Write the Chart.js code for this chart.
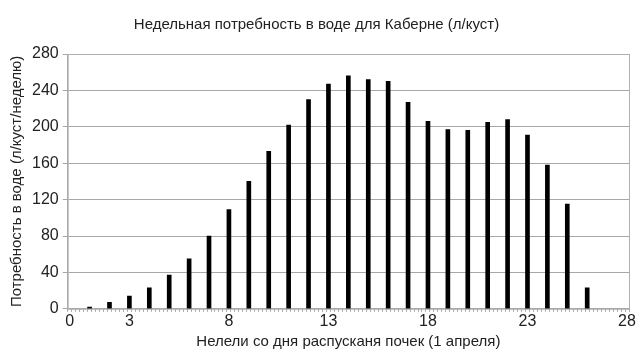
<!DOCTYPE html>
<html>
<head>
<meta charset="utf-8">
<script src="https://cdn.jsdelivr.net/npm/chart.js@4/dist/chart.umd.min.js"></script>
<style>
  html, body { margin: 0; padding: 0; background: #fff; }
  #wrap { width: 643px; height: 360px; }
</style>
</head>
<body>
<div id="wrap"><canvas id="cabernet"></canvas></div>
<script>
// Weekly water need for Cabernet (l/vine), weeks since budbreak
const weeks = [1, 2, 3, 4, 5, 6, 7, 8, 9, 10, 11, 12, 13, 14, 15, 16, 17, 18, 19, 20, 21, 22, 23, 24, 25, 26];
const waterNeed = [2, 7, 14, 23, 37, 55, 80, 109, 140, 173, 202, 230, 247, 256, 252, 250, 227, 206, 197, 196, 205, 208, 191, 158, 115, 23];
const xTickLabels = [0, 3, 8, 13, 18, 23, 28];
const yTickValues = [0, 40, 80, 120, 160, 200, 240, 280];

const chartTitle = 'Недельная потребность в воде для Каберне (л/куст)';
const xTitle = 'Нелели со дня распусканя почек (1 апреля)';
const yTitle = 'Потребность в воде (л/куст/неделю)';

Chart.defaults.font.family = 'Arial, "Liberation Sans", sans-serif';
Chart.defaults.color = '#333';

// draws the grey frame round the plot area
const frame = {
    id: 'frame',
    afterDraw(chart) {
        const a = chart.chartArea;
        const c = chart.ctx;
        c.save();
        c.strokeStyle = '#b0b0b0';
        c.lineWidth = 1;
        c.strokeRect(a.left + 0.5, a.top + 0.5, a.right - a.left, a.bottom - a.top);
        c.restore();
    }
};

const ctx = document.getElementById('cabernet').getContext('2d');
new Chart(ctx, {
    type: 'bar',
    data: {
        datasets: [{
            label: 'Потребность',
            data: weeks.map((w, i) => ({ x: w, y: waterNeed[i] })),
            backgroundColor: '#000',
            barThickness: 4
        }]
    },
    options: {
        responsive: true,
        maintainAspectRatio: false,
        animation: false,
        layout: { padding: { top: 4, right: 14, left: 4, bottom: 5 } },
        plugins: {
            legend: { display: false },
            tooltip: { enabled: false },
            title: {
                display: true,
                text: chartTitle,
                color: '#222',
                font: { size: 15, weight: 'normal' },
                padding: { top: 12, bottom: 20 }
            }
        },
        scales: {
            x: {
                type: 'linear',
                min: 0,
                max: 28,
                afterBuildTicks(axis) {
                    const t = [];
                    for (let v = 0; v <= 28 * 5; v++) t.push({ value: v / 5 });
                    axis.ticks = t;
                },
                ticks: {
                    autoSkip: false,
                    maxRotation: 0,
                    padding: 0,
                    font: { size: 16 },
                    color: '#222',
                    callback: v => xTickLabels.includes(Math.round(v * 100) / 100) ? String(v) : ''
                },
                grid: {
                    drawOnChartArea: false,
                    tickLength: 3,
                    color: '#a8a8a8'
                },
                border: { color: '#a8a8a8' },
                title: {
                    display: true,
                    text: xTitle,
                    color: '#222',
                    font: { size: 15 },
                    padding: { top: 2 }
                }
            },
            y: {
                min: 0,
                max: 280,
                afterBuildTicks(axis) {
                    axis.ticks = yTickValues.map(v => ({ value: v }));
                },
                ticks: {
                    font: { size: 16 },
                    color: '#222',
                    padding: 4
                },
                grid: {
                    color: '#a8a8a8',
                    tickLength: 5
                },
                border: { color: '#a8a8a8' },
                title: {
                    display: true,
                    text: yTitle,
                    color: '#222',
                    font: { size: 15 },
                    padding: { bottom: 2 }
                }
            }
        }
    },
    plugins: [frame]
});
</script>
</body>
</html>
